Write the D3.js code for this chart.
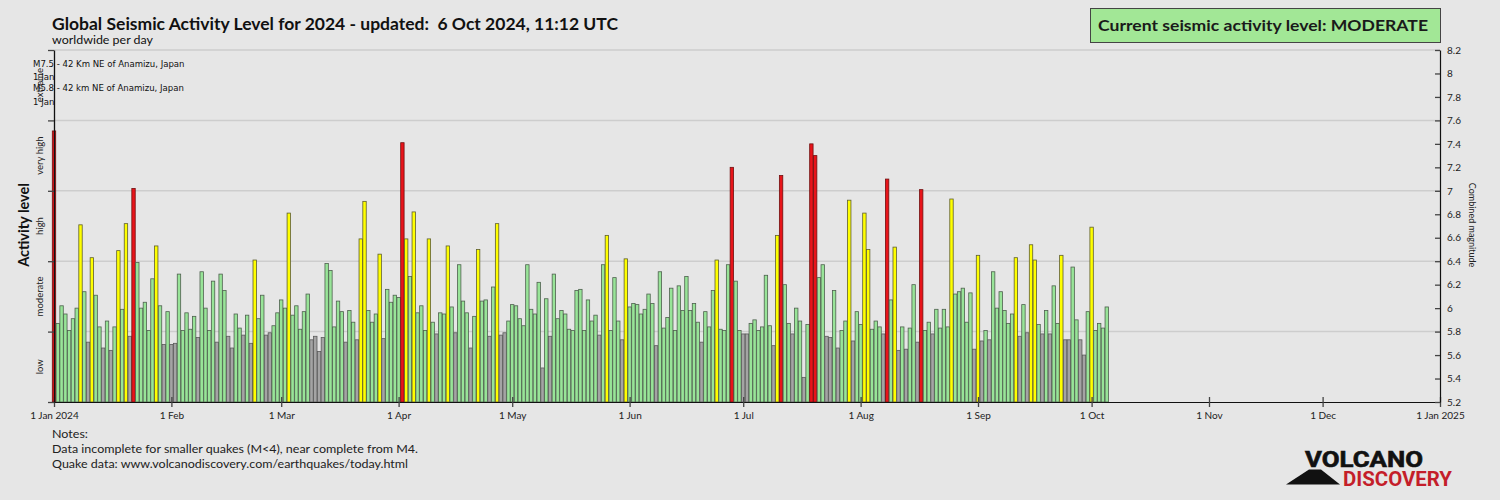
<!DOCTYPE html>
<html>
<head>
<meta charset="utf-8">
<script src="https://cdn.jsdelivr.net/npm/d3@7/dist/d3.min.js"></script>
<style>
  html, body { margin: 0; padding: 0; background: #e6e6e6; }
  svg { display: block; font-family: Lato, "Open Sans", sans-serif; }
</style>
</head>
<body>
<svg id="chart" width="1500" height="500"></svg>
<script>
// ---------- DATA ----------
const startDate = "2024-01-01";
// Combined daily magnitude, one value per day from 1 Jan 2024 to 5 Oct 2024
const dailyMagnitude = [
  7.51,5.87,6.02,5.95,5.81,5.91,6.00,6.71,6.14,5.71,6.43,6.11,5.84,5.66,5.89,5.64,5.84,6.49,5.99,6.72,
  5.76,7.02,6.39,6.00,6.05,5.81,6.25,6.53,6.02,5.69,5.97,5.69,5.70,6.29,5.81,5.96,5.82,5.93,5.75,6.31,
  6.00,5.81,6.23,5.71,6.29,6.15,5.76,5.66,5.95,5.83,5.77,5.94,5.70,6.41,5.91,6.11,5.77,5.79,5.85,5.96,
  6.07,6.00,6.81,5.94,6.02,5.82,5.97,6.12,5.73,5.76,5.63,5.75,6.38,6.32,5.84,6.06,5.97,5.71,5.98,5.88,
  5.73,6.59,6.91,5.98,5.88,5.95,6.46,5.74,6.16,6.05,6.11,6.09,7.41,6.59,6.27,6.82,5.96,6.02,5.81,6.59,
  5.88,5.78,5.96,5.95,6.53,6.01,5.79,6.37,6.06,5.96,5.66,5.93,6.50,6.06,6.07,5.76,6.18,6.72,5.77,5.79,
  5.89,6.03,6.02,5.91,5.85,6.37,5.99,5.95,6.22,5.49,6.08,5.76,6.29,5.91,5.98,5.95,5.82,5.81,6.15,6.16,
  5.81,6.07,5.89,5.94,5.77,6.37,6.62,5.81,6.26,5.89,5.73,6.42,6.01,6.04,6.03,5.95,5.99,6.12,6.04,5.68,
  6.31,5.83,5.92,6.17,5.81,6.19,5.98,6.27,5.98,6.04,5.88,5.71,5.97,5.84,6.15,6.41,5.82,5.81,6.37,7.20,
  6.23,5.81,5.78,5.78,5.87,5.90,5.81,5.84,6.28,5.85,5.68,6.62,7.13,6.20,5.87,5.78,6.00,5.89,5.41,5.86,
  7.40,7.30,6.26,6.37,5.76,5.75,6.15,5.66,5.81,5.89,6.92,5.72,5.97,5.86,6.81,6.50,5.82,5.89,5.84,5.78,
  7.10,6.07,6.52,5.64,5.84,5.65,5.83,6.20,5.71,7.01,5.81,5.88,5.78,5.99,5.83,5.99,5.84,6.93,6.12,6.14,
  6.17,5.88,6.13,5.65,6.45,5.72,5.81,5.73,6.31,6.00,6.14,5.98,5.87,5.95,6.43,5.76,6.03,5.79,6.54,6.41,
  5.86,5.78,5.98,5.78,6.19,5.87,6.45,5.73,5.73,6.35,5.90,5.73,5.60,5.97,6.69,5.81,5.87,5.83,6.01
];
const levelNames = ["low", "moderate", "high", "very high", "extreme"];
const levelBounds = [5.2, 5.8, 6.4, 7.0, 7.6, 8.2];
const levelFill = ["#a4a4a4", "#98e498", "#ffff00", "#e8141a", "#a0005a"];
const levelStroke = ["#5a5a5a", "#4e604e", "#5e5e30", "#701010", "#500030"];
const magTicks = [5.2,5.4,5.6,5.8,6.0,6.2,6.4,6.6,6.8,7.0,7.2,7.4,7.6,7.8,8.0,8.2];
const monthTicks = ["2024-01-01","2024-02-01","2024-03-01","2024-04-01","2024-05-01","2024-06-01",
  "2024-07-01","2024-08-01","2024-09-01","2024-10-01","2024-11-01","2024-12-01","2025-01-01"];
const monthLabels = ["1 Jan 2024","1 Feb","1 Mar","1 Apr","1 May","1 Jun","1 Jul","1 Aug","1 Sep",
  "1 Oct","1 Nov","1 Dec","1 Jan 2025"];
const annotations = ["M7.5 - 42 Km NE of Anamizu, Japan", "1 Jan", "M5.8 - 42 km NE of Anamizu, Japan", "1 Jan"];
const notes = ["Notes:", "Data incomplete for smaller quakes (M<4), near complete from M4.",
  "Quake data: www.volcanodiscovery.com/earthquakes/today.html"];

// ---------- CHART ----------
(function () {
const svg = d3.select("#chart");
const parse = d3.utcParse("%Y-%m-%d");
const t0 = parse(startDate);
const days = dailyMagnitude.map((v, i) => ({ date: d3.utcDay.offset(t0, i), value: v }));

const pL = 54, pR = 1440, pT = 50, pB = 402;
const x = d3.scaleUtc().domain([parse("2024-01-01"), parse("2025-01-01")]).range([pL, pR]);
const y = d3.scaleLinear().domain([5.2, 8.2]).range([pB, pT]);
const levelOf = v => Math.max(0, Math.min(4, d3.bisectRight(levelBounds, v) - 1));

svg.append("rect").attr("width", 1500).attr("height", 500).attr("fill", "#e6e6e6");

// gridlines at level boundaries
svg.append("g").selectAll("line").data(levelBounds.slice(1)).join("line")
  .attr("x1", pL).attr("x2", pR)
  .attr("y1", d => y(d)).attr("y2", d => y(d))
  .attr("stroke", "#cdcdcd").attr("stroke-width", 1.5);

// bars
const bw = 3.4;
svg.append("g").selectAll("rect").data(days).join("rect")
  .attr("x", d => x(d.date) - bw / 2)
  .attr("y", d => y(d.value))
  .attr("width", bw)
  .attr("height", d => y(5.2) - y(d.value))
  .attr("fill", d => levelFill[levelOf(d.value)])
  .attr("stroke", d => levelStroke[levelOf(d.value)])
  .attr("stroke-width", 0.8);

// x axis
const xAxis = d3.axisBottom(x)
  .tickValues(monthTicks.map(parse))
  .tickFormat((d, i) => monthLabels[i])
  .tickSizeInner(5).tickSizeOuter(0).tickPadding(5);
const gx = svg.append("g").attr("transform", `translate(0,${pB})`).call(xAxis);
gx.select(".domain").attr("stroke", "#111").attr("stroke-width", 1.2);
gx.selectAll(".tick line").attr("y1", -5).attr("stroke", "#444").attr("stroke-width", 1.3);
gx.selectAll(".tick text").attr("font-family", "Lato, sans-serif").attr("font-size", 10).attr("fill", "#222");

// right axis
const yAxis = d3.axisRight(y).tickValues(magTicks)
  .tickFormat(d => String(+d.toFixed(1)))
  .tickSizeInner(-5).tickSizeOuter(0).tickPadding(7);
const gy = svg.append("g").attr("transform", `translate(${pR},0)`).call(yAxis);
gy.select(".domain").attr("stroke", "#111").attr("stroke-width", 1.2);
gy.selectAll(".tick line").attr("stroke", "#444").attr("stroke-width", 1.3);
gy.selectAll(".tick text").attr("font-family", "Lato, sans-serif").attr("font-size", 10).attr("fill", "#222");

svg.append("text").attr("transform", `translate(1469,225) rotate(90)`)
  .attr("text-anchor", "middle").attr("font-size", 9).attr("fill", "#222")
  .text("Combined magnitude");

// left level axis
const levelAxis = d3.axisLeft(y).tickValues(levelBounds).tickFormat("")
  .tickSizeInner(6).tickSizeOuter(0);
const gl = svg.append("g").attr("transform", `translate(${pL},0)`).call(levelAxis);
gl.select(".domain").attr("stroke", "#111").attr("stroke-width", 1.3);
gl.selectAll(".tick line").attr("stroke", "#444").attr("stroke-width", 1.3);

svg.append("g").selectAll("text").data(levelNames).join("text")
  .attr("transform", (d, i) => `translate(43,${y((levelBounds[i] + levelBounds[i + 1]) / 2)}) rotate(-90)`)
  .attr("text-anchor", "middle").attr("font-size", 9.5).attr("fill", "#222")
  .text(d => d);

svg.append("text").attr("transform", "translate(29,225) rotate(-90)")
  .attr("text-anchor", "middle").attr("font-weight", "bold").attr("font-size", 14.5).attr("fill", "#111")
  .text("Activity level");

// annotations
svg.append("g").selectAll("text").data(annotations).join("text")
  .attr("x", 33).attr("y", (d, i) => [67, 80, 91, 105][i])
  .attr("font-family", "'Liberation Sans Narrow', 'DejaVu Sans Condensed', sans-serif")
  .attr("font-size", 9.5).attr("fill", "#111")
  .text(d => d);

// title
svg.append("text").attr("x", 52).attr("y", 30)
  .style("white-space", "pre")
  .attr("font-weight", "bold").attr("font-size", 17).attr("fill", "#111")
  .attr("textLength", 566).attr("lengthAdjust", "spacingAndGlyphs")
  .text("Global Seismic Activity Level for 2024 - updated:  6 Oct 2024, 11:12 UTC");
svg.append("text").attr("x", 52).attr("y", 44)
  .attr("font-size", 11).attr("fill", "#111")
  .attr("textLength", 101).attr("lengthAdjust", "spacingAndGlyphs")
  .text("worldwide per day");

// status box
svg.append("rect").attr("x", 1090.5).attr("y", 8.5).attr("width", 350).attr("height", 34)
  .attr("fill", "#a2e796").attr("stroke", "#444").attr("stroke-width", 1);
svg.append("text").attr("x", 1098).attr("y", 31)
  .attr("font-weight", "bold").attr("font-size", 16).attr("fill", "#1a1a1a")
  .attr("textLength", 330).attr("lengthAdjust", "spacingAndGlyphs")
  .text("Current seismic activity level: MODERATE");

// notes
svg.append("g").selectAll("text").data(notes).join("text")
  .attr("x", 52).attr("y", (d, i) => 438 + i * 15)
  .attr("font-size", 11).attr("fill", "#222")
  .each(function(d, i) {
    const tl = [36, 366, 356][i];
    d3.select(this).attr("textLength", tl).attr("lengthAdjust", "spacingAndGlyphs");
  })
  .text(d => d);

// logo
const logo = svg.append("g");
logo.append("text").attr("x", 1305).attr("y", 467)
  .attr("font-family", "'Liberation Sans Narrow', Roboto, sans-serif")
  .attr("font-weight", "bold").attr("font-size", 22).attr("fill", "#111")
  .attr("textLength", 118).attr("lengthAdjust", "spacingAndGlyphs")
  .attr("stroke", "#111").attr("stroke-width", 0.6)
  .text("VOLCANO");
logo.append("polygon")
  .attr("points", "1286,484.5 1309,469.5 1321,469.5 1340,484.5")
  .attr("fill", "#111");
logo.append("text").attr("x", 1343).attr("y", 486)
  .attr("font-family", "'Liberation Sans Narrow', Roboto, sans-serif")
  .attr("font-weight", "bold").attr("font-size", 20).attr("fill", "#c41e2a")
  .attr("textLength", 109).attr("lengthAdjust", "spacingAndGlyphs")
  .text("DISCOVERY");
})();
</script>
</body>
</html>
